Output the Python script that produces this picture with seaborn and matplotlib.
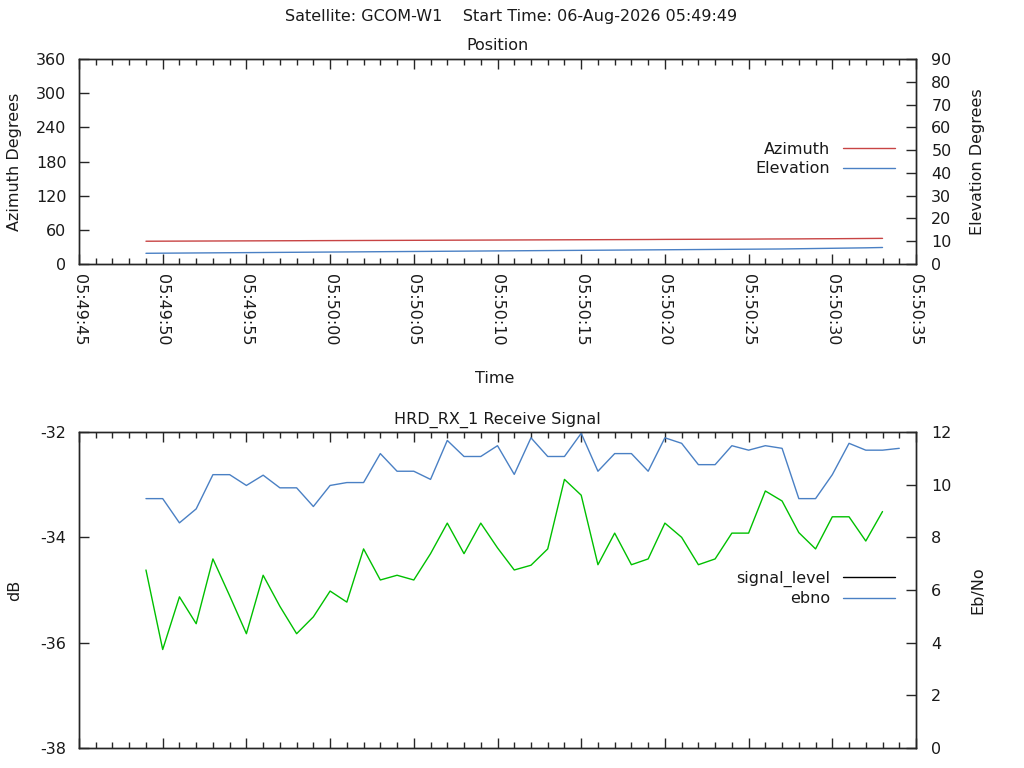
import matplotlib
matplotlib.use("Agg")
import matplotlib.pyplot as plt
import matplotlib.dates as mdates
from matplotlib.lines import Line2D
import numpy as np
import pandas as pd
import seaborn as sns

# ---------------- data ----------------
suptitle = "Satellite: GCOM-W1    Start Time: 06-Aug-2026 05:49:49"
pos_start = "2026-08-06 05:49:49"
axis_start = "2026-08-06 05:49:45"
axis_end = "2026-08-06 05:50:35"

azimuth = [40.0, 40.1, 40.2, 40.3, 40.4, 40.5, 40.6, 40.7, 40.8, 40.9,
           41.0, 41.1, 41.2, 41.3, 41.4, 41.5, 41.6, 41.7, 41.8, 41.9,
           42.0, 42.1, 42.2, 42.3, 42.4, 42.5, 42.6, 42.7, 42.8, 42.9,
           43.0, 43.2, 43.3, 43.4, 43.5, 43.6, 43.7, 43.9, 44.0, 44.1,
           44.3, 44.4, 44.6, 44.8, 45.0]
elevation = [4.70, 4.75, 4.80, 4.85, 4.90, 4.95, 5.00, 5.05, 5.10, 5.15,
             5.20, 5.25, 5.30, 5.35, 5.40, 5.45, 5.50, 5.55, 5.60, 5.65,
             5.70, 5.75, 5.80, 5.85, 5.90, 5.95, 6.00, 6.05, 6.10, 6.15,
             6.20, 6.25, 6.30, 6.35, 6.40, 6.45, 6.50, 6.55, 6.60, 6.70,
             6.80, 6.90, 7.00, 7.10, 7.25]

signal_level = [-34.62, -36.13, -35.13, -35.64, -34.41, -35.11, -35.83, -34.72, -35.31, -35.83,
                -35.51, -35.02, -35.23, -34.22, -34.81, -34.72, -34.81, -34.31, -33.73, -34.31,
                -33.73, -34.20, -34.62, -34.53, -34.22, -32.90, -33.20, -34.52, -33.92, -34.52,
                -34.41, -33.73, -34.00, -34.52, -34.41, -33.92, -33.92, -33.12, -33.31, -33.91,
                -34.22, -33.61, -33.61, -34.07, -33.51]
ebno = [9.47, 9.47, 8.55, 9.08, 10.38, 10.38, 9.97, 10.36, 9.88, 9.88,
        9.17, 9.97, 10.08, 10.08, 11.18, 10.51, 10.51, 10.20, 11.68, 11.07,
        11.07, 11.48, 10.39, 11.78, 11.07, 11.07, 11.95, 10.51, 11.18, 11.18,
        10.51, 11.78, 11.57, 10.76, 10.76, 11.48, 11.31, 11.48, 11.38, 9.47,
        9.47, 10.38, 11.57, 11.31, 11.31, 11.38]

pos_df = pd.DataFrame({
    "time": pd.date_range(pos_start, periods=len(azimuth), freq="1s"),
    "azimuth": azimuth,
    "elevation": elevation,
})
sig_df = pd.DataFrame({
    "time": pd.date_range(pos_start, periods=len(signal_level), freq="1s"),
    "signal_level": signal_level,
})
ebno_df = pd.DataFrame({
    "time": pd.date_range(pos_start, periods=len(ebno), freq="1s"),
    "ebno": ebno,
})

# ---------------- style ----------------
sns.set_style("ticks")
FS = 11.5
plt.rcParams["font.family"] = ["DejaVu Sans"]
plt.rcParams["font.size"] = FS
plt.rcParams["axes.linewidth"] = 1.0
plt.rcParams["axes.unicode_minus"] = False
plt.rcParams["xtick.direction"] = "in"
plt.rcParams["ytick.direction"] = "in"

RED = "#c84444"
BLUE = "#4a80c4"
GREEN = "#00c000"
TXT = "#1a1a1a"

W, H = 1024, 768
fig = plt.figure(figsize=(W / 100, H / 100), dpi=100)


def fx(px):
    return px / W


def fy(py):
    return 1 - py / H


L, R = 79, 916
ax1 = fig.add_axes([fx(L), fy(264), fx(R - L), (264 - 59) / H])
ax3 = fig.add_axes([fx(L), fy(748), fx(R - L), (748 - 432) / H])

x0 = pd.Timestamp(axis_start)
x1 = pd.Timestamp(axis_end)

# ---- top: position ----
sns.lineplot(data=pos_df, x="time", y="azimuth", ax=ax1, color=RED, lw=1.0, legend=False)
ax2 = ax1.twinx()
sns.lineplot(data=pos_df, x="time", y="elevation", ax=ax2, color=BLUE, lw=1.0, legend=False)
ax1.set_ylim(0, 360)
ax1.set_yticks(range(0, 361, 60))
ax2.set_ylim(0, 90)
ax2.set_yticks(range(0, 91, 10))

# ---- bottom: signal ----
sns.lineplot(data=sig_df, x="time", y="signal_level", ax=ax3, color=GREEN, lw=1.0, legend=False)
ax4 = ax3.twinx()
sns.lineplot(data=ebno_df, x="time", y="ebno", ax=ax4, color=BLUE, lw=1.0, legend=False)
ax3.set_ylim(-38, -32)
ax3.set_yticks([-38, -36, -34, -32])
ax4.set_ylim(0, 12)
ax4.set_yticks(range(0, 13, 2))

for a in (ax1, ax3):
    a.set_xlim(x0, x1)
    a.xaxis.set_major_locator(mdates.SecondLocator(bysecond=range(0, 60, 5)))
    a.xaxis.set_minor_locator(mdates.SecondLocator())
    a.xaxis.set_major_formatter(mdates.DateFormatter("%H:%M:%S"))
    a.tick_params(axis="x", which="major", top=True, bottom=True, length=7, width=1,
                  direction="in", pad=7, labelsize=FS, labelcolor=TXT)
    a.tick_params(axis="x", which="minor", top=True, bottom=True, length=4, width=1,
                  direction="in")
    a.tick_params(axis="y", which="major", left=True, right=False, length=7, width=1,
                  direction="in", pad=9, labelsize=FS, labelcolor=TXT)
    a.grid(False)

for a in (ax2, ax4):
    a.tick_params(axis="y", which="major", left=False, right=True, length=7, width=1,
                  direction="in", pad=11, labelsize=FS, labelcolor=TXT)
    a.grid(False)

for lab in ax1.get_xticklabels():
    lab.set_rotation(270)
    lab.set_ha("center")
    lab.set_va("top")
ax3.tick_params(axis="x", labelbottom=False)

# axis labels
ax1.set_xlabel("Time", fontsize=FS, color=TXT)
ax1.xaxis.set_label_coords((495 - L) / (R - L), (264 - 371) / (264 - 59))
ax1.set_ylabel("Azimuth Degrees", fontsize=FS, color=TXT)
ax1.yaxis.set_label_coords((22 - L) / (R - L), 0.5)
ax2.set_ylabel("Elevation Degrees", fontsize=FS, color=TXT)
ax2.yaxis.set_label_coords((970 - L) / (R - L), 0.5)
ax3.set_xlabel("")
ax3.set_ylabel("dB", fontsize=FS, color=TXT)
ax3.yaxis.set_label_coords((22 - L) / (R - L), 0.5)
ax4.set_ylabel("Eb/No", fontsize=FS, color=TXT)
ax4.yaxis.set_label_coords((970 - L) / (R - L), 0.5)

# titles
fig.text(fx(511), fy(17), suptitle, ha="center", va="center", fontsize=FS, color=TXT)
fig.text(fx(497), fy(46), "Position", ha="center", va="center", fontsize=FS, color=TXT)
fig.text(fx(497), fy(420), "HRD_RX_1 Receive Signal", ha="center", va="center",
         fontsize=FS, color=TXT)

# legends (gnuplot style: text then line, right aligned)
leg_kw = dict(markerfirst=False, frameon=False, handlelength=3.25, handletextpad=0.8,
              labelspacing=0.26, fontsize=FS, borderpad=0, borderaxespad=0,
              loc="upper right")
h_top = [Line2D([], [], color=RED, lw=1.0), Line2D([], [], color=BLUE, lw=1.0)]
lg1 = ax2.legend(h_top, ["Azimuth", "Elevation"],
                 bbox_to_anchor=(fx(895), fy(142)), bbox_transform=fig.transFigure, **leg_kw)
for t in lg1.get_texts():
    t.set_color(TXT)
h_bot = [Line2D([], [], color="black", lw=1.0), Line2D([], [], color=BLUE, lw=1.0)]
lg2 = ax4.legend(h_bot, ["signal_level", "ebno"],
                 bbox_to_anchor=(fx(895), fy(571)), bbox_transform=fig.transFigure, **leg_kw)
for t in lg2.get_texts():
    t.set_color(TXT)

fig.savefig("out.png", dpi=100, facecolor="white")
